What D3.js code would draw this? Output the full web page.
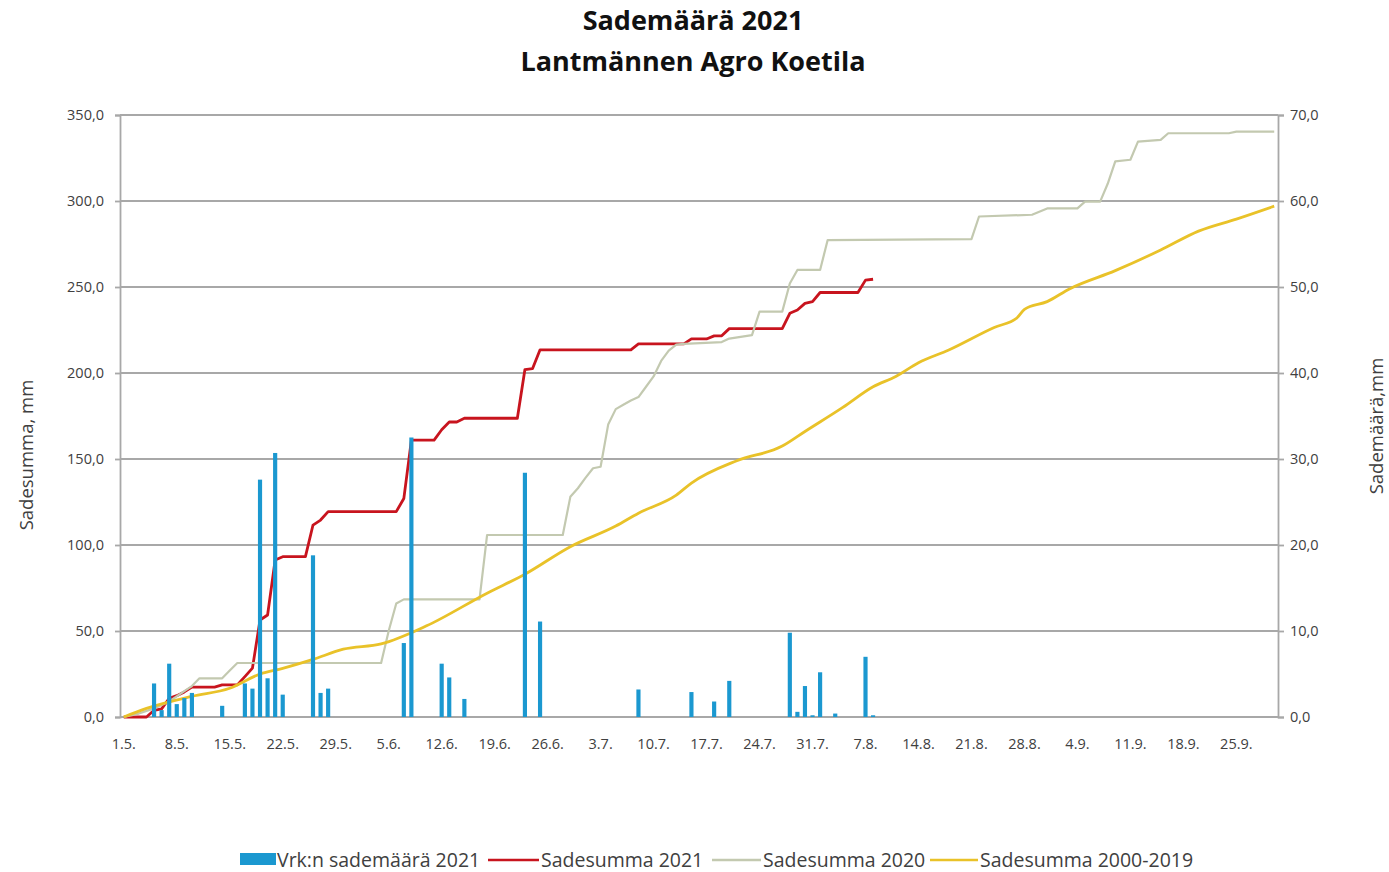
<!DOCTYPE html>
<html>
<head>
<meta charset="utf-8">
<script src="https://cdn.jsdelivr.net/npm/d3@7"></script>
<style>
  body { margin: 0; background: #fff; }
  text { font-family: "Open Sans", sans-serif; fill: #404040; }
</style>
</head>
<body>
<svg id="chart" width="1389" height="872"></svg>
<script>
// days 1.5. - 30.9.
const days = d3.timeDay.range(new Date(2021, 4, 1), new Date(2021, 9, 1)).map(d3.timeFormat("%-d.%-m."));
const tickLabels = ["1.5.", "8.5.", "15.5.", "22.5.", "29.5.", "5.6.", "12.6.", "19.6.", "26.6.", "3.7.", "10.7.",
  "17.7.", "24.7.", "31.7.", "7.8.", "14.8.", "21.8.", "28.8.", "4.9.", "11.9.", "18.9.", "25.9."];
const leftTicks = [0, 50, 100, 150, 200, 250, 300, 350];
const rightTicks = [0, 10, 20, 30, 40, 50, 60, 70];

// Vrk:n sademäärä 2021 (right axis)
const dailyRain2021 = [
  ["5.5.", 3.9], ["6.5.", 0.8], ["7.5.", 6.2], ["8.5.", 1.5], ["9.5.", 2.2], ["10.5.", 2.8], ["14.5.", 1.3],
  ["17.5.", 3.9], ["18.5.", 3.3], ["19.5.", 27.6], ["20.5.", 4.5], ["21.5.", 30.7], ["22.5.", 2.6],
  ["26.5.", 18.8], ["27.5.", 2.8], ["28.5.", 3.3], ["7.6.", 8.6], ["8.6.", 32.5], ["12.6.", 6.2],
  ["13.6.", 4.6], ["15.6.", 2.1], ["23.6.", 28.4], ["25.6.", 11.1], ["8.7.", 3.2], ["15.7.", 2.9],
  ["18.7.", 1.8], ["20.7.", 4.2], ["28.7.", 9.8], ["29.7.", 0.6], ["30.7.", 3.6], ["31.7.", 0.2],
  ["1.8.", 5.2], ["3.8.", 0.4], ["7.8.", 7.0], ["8.8.", 0.2]
];

// Sadesumma 2021 (left axis)
const sum2021 = [
  ["1.5.", 0], ["4.5.", 0], ["5.5.", 3.9], ["6.5.", 4.7], ["7.5.", 10.9], ["8.5.", 12.4], ["9.5.", 14.6],
  ["10.5.", 17.4], ["13.5.", 17.4], ["14.5.", 18.7], ["16.5.", 18.7], ["17.5.", 23.5], ["18.5.", 28.4],
  ["19.5.", 56.4], ["20.5.", 59.3], ["21.5.", 91.3], ["22.5.", 93.2], ["25.5.", 93.2], ["26.5.", 111.6],
  ["27.5.", 114.5], ["28.5.", 119.4], ["6.6.", 119.4], ["7.6.", 127], ["8.6.", 161], ["11.6.", 161],
  ["12.6.", 167], ["13.6.", 171.5], ["14.6.", 171.5], ["15.6.", 173.7], ["22.6.", 173.7], ["23.6.", 202],
  ["24.6.", 202.5], ["25.6.", 213.5], ["7.7.", 213.5], ["8.7.", 216.9], ["14.7.", 216.9], ["15.7.", 219.8],
  ["17.7.", 219.8], ["18.7.", 221.6], ["19.7.", 221.6], ["20.7.", 225.8], ["27.7.", 225.8], ["28.7.", 234.7],
  ["29.7.", 236.6], ["30.7.", 240.5], ["31.7.", 241.5], ["1.8.", 246.8], ["6.8.", 246.8], ["7.8.", 254],
  ["8.8.", 254.5]
];

// Sadesumma 2020 (left axis)
const sum2020 = [
  ["1.5.", 0], ["3.5.", 2], ["5.5.", 5], ["7.5.", 9], ["9.5.", 15], ["10.5.", 18], ["11.5.", 22.5],
  ["14.5.", 22.5], ["15.5.", 27], ["16.5.", 31.4], ["4.6.", 31.4], ["5.6.", 50], ["6.6.", 66], ["7.6.", 68.4],
  ["17.6.", 68.4], ["18.6.", 105.8], ["28.6.", 105.8], ["29.6.", 128], ["30.6.", 133], ["1.7.", 139],
  ["2.7.", 144.6], ["3.7.", 145.5], ["4.7.", 170], ["5.7.", 179], ["6.7.", 181.5], ["7.7.", 184],
  ["8.7.", 186], ["9.7.", 192], ["10.7.", 198], ["11.7.", 207], ["12.7.", 213], ["13.7.", 216.5],
  ["14.7.", 216.9], ["19.7.", 218], ["20.7.", 220], ["23.7.", 222], ["24.7.", 235.7], ["27.7.", 235.7],
  ["28.7.", 252], ["29.7.", 259.9], ["1.8.", 259.9], ["2.8.", 277.3], ["21.8.", 277.8], ["22.8.", 291],
  ["29.8.", 292], ["31.8.", 295.7], ["4.9.", 295.7], ["5.9.", 299.6], ["7.9.", 299.6], ["8.9.", 310],
  ["9.9.", 323], ["11.9.", 324], ["12.9.", 334.5], ["15.9.", 335.5], ["16.9.", 339.4], ["24.9.", 339.4],
  ["25.9.", 340.3], ["30.9.", 340.3]
];

// Sadesumma 2000-2019 (left axis)
const sum2000_2019 = [
  ["1.5.", 0], ["4.5.", 5], ["10.5.", 12], ["15.5.", 16.7], ["19.5.", 25], ["22.5.", 28.3], ["26.5.", 33.5],
  ["30.5.", 39.4], ["4.6.", 42.5], ["10.6.", 53], ["18.6.", 72], ["23.6.", 83], ["29.6.", 99],
  ["5.7.", 111], ["8.7.", 118.5], ["13.7.", 129], ["15.7.", 136], ["21.7.", 149], ["27.7.", 157.5],
  ["30.7.", 166], ["4.8.", 180], ["8.8.", 192], ["11.8.", 198], ["14.8.", 206], ["18.8.", 213.4],
  ["24.8.", 226.5], ["27.8.", 232], ["28.8.", 237], ["31.8.", 241.5], ["3.9.", 249], ["9.9.", 259.5],
  ["15.9.", 271.5], ["20.9.", 282.5], ["25.9.", 289.5], ["30.9.", 297]
];

const seriesNames = ["Vrk:n sademäärä 2021", "Sadesumma 2021", "Sadesumma 2020", "Sadesumma 2000-2019"];
const colors = ["#1b98d0", "#c8141e", "#c3c9b0", "#e9c229"];

const svg = d3.select("#chart");
const plotLeft = 120, plotRight = 1278, plotTop = 115, plotBottom = 717;
const gridColor = "#a8a8a8";
const comma = d => d3.format(".1f")(d).replace(".", ",");

const x = d3.scaleBand().domain(days).range([plotLeft, plotRight]);
const yL = d3.scaleLinear().domain([0, 350]).range([plotBottom, plotTop]);
const yR = d3.scaleLinear().domain([0, 70]).range([plotBottom, plotTop]);
const cx = d => x(d) + x.bandwidth() / 2;

// titles
svg.append("text").attr("x", 693).attr("y", 30).attr("text-anchor", "middle")
  .style("font-size", "27px").style("font-weight", "bold").style("fill", "#111").text("Sademäärä 2021");
svg.append("text").attr("x", 693).attr("y", 71).attr("text-anchor", "middle")
  .style("font-size", "27px").style("font-weight", "bold").style("fill", "#111").text("Lantmännen Agro Koetila");

// gridlines
svg.append("g").selectAll("line").data(leftTicks).enter().append("line")
  .attr("x1", plotLeft).attr("x2", plotRight)
  .attr("y1", d => yL(d)).attr("y2", d => yL(d))
  .attr("stroke", gridColor).attr("stroke-width", 1.8);

// axes
const ax = svg.append("g").attr("transform", "translate(" + plotLeft + ",0)")
  .call(d3.axisLeft(yL).tickValues(leftTicks).tickFormat(comma).tickSize(5).tickPadding(11));
const axR = svg.append("g").attr("transform", "translate(" + plotRight + ",0)")
  .call(d3.axisRight(yR).tickValues(rightTicks).tickFormat(comma).tickSize(6).tickPadding(6));
const axB = svg.append("g").attr("transform", "translate(0," + plotBottom + ")")
  .call(d3.axisBottom(x).tickValues(tickLabels).tickSize(0).tickPadding(22));
[ax, axR, axB].forEach(g => {
  g.select(".domain").attr("stroke", gridColor).attr("stroke-width", 1.8);
  g.selectAll(".tick line").attr("stroke", gridColor).attr("stroke-width", 1.8);
  g.selectAll(".tick text").style("font-size", "14.5px").style("font-family", "Open Sans").attr("fill", "#404040");
});
axB.select(".domain").remove();

// axis titles
svg.append("text").attr("transform", "translate(33,455) rotate(-90)").attr("text-anchor", "middle")
  .style("font-size", "18.5px").text("Sadesumma, mm");
svg.append("text").attr("transform", "translate(1383,426) rotate(-90)").attr("text-anchor", "middle")
  .style("font-size", "18.5px").text("Sademäärä,mm");

// lines
const line = d3.line().x(d => cx(d[0])).y(d => yL(d[1]));
const smooth = d3.line().x(d => cx(d[0])).y(d => yL(d[1])).curve(d3.curveMonotoneX);
[[sum2021, colors[1], 2.8, line], [sum2020, colors[2], 2.2, line], [sum2000_2019, colors[3], 2.8, smooth]].forEach(s => {
  svg.append("path").datum(s[0]).attr("d", s[3])
    .attr("fill", "none").attr("stroke", s[1]).attr("stroke-width", s[2]).attr("stroke-linejoin", "round");
});

// bars
const bw = x.bandwidth() * 0.55;
svg.append("g").selectAll("rect").data(dailyRain2021).enter().append("rect")
  .attr("x", d => cx(d[0]) - bw / 2)
  .attr("y", d => yR(d[1]))
  .attr("width", bw)
  .attr("height", d => plotBottom - yR(d[1]))
  .attr("fill", colors[0]);

// legend
const lg = svg.append("g");
const items = [
  { x: 240, tx: 277 }, { x: 488, tx: 541 }, { x: 712, tx: 763 }, { x: 930, tx: 980 }
];
items.forEach((it, i) => {
  if (i === 0) {
    lg.append("rect").attr("x", it.x).attr("y", 853).attr("width", 36).attr("height", 12).attr("fill", colors[0]);
  } else {
    lg.append("line").attr("x1", it.x).attr("x2", it.tx - 2).attr("y1", 860).attr("y2", 860)
      .attr("stroke", colors[i]).attr("stroke-width", 2.6);
  }
  lg.append("text").attr("x", it.tx).attr("y", 867).style("font-size", "19.5px").text(seriesNames[i]);
});
</script>
</body>
</html>
